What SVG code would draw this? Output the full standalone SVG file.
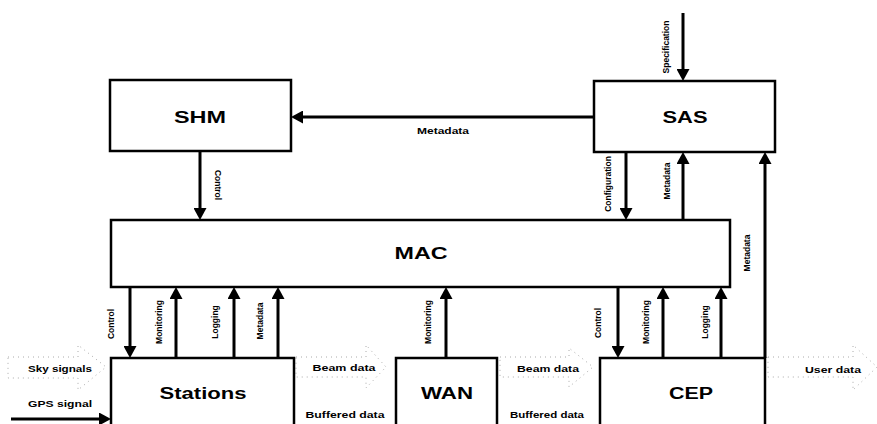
<svg xmlns="http://www.w3.org/2000/svg" width="877" height="424" viewBox="0 0 877 424">
<defs>
<style>
.box{fill:#fff;stroke:#000;stroke-width:2.5}
.nl{font-family:"Liberation Sans",Arial,sans-serif;font-weight:bold;font-size:16px;text-anchor:middle;fill:#000}
.sl{font-family:"Liberation Sans",Arial,sans-serif;font-weight:bold;font-size:8.5px;text-anchor:middle;fill:#000}
.ar{stroke:#000;stroke-width:3;fill:none;marker-end:url(#ah)}
.hol{fill:none;stroke:#aaa;stroke-width:1;stroke-dasharray:1 4}
</style>
<marker id="ah" markerWidth="13" markerHeight="13" refX="3" refY="6.5" orient="auto" markerUnits="userSpaceOnUse">
<path d="M0,0 L12,6.5 L0,13 z" fill="#000"/>
</marker>
</defs>
<rect width="877" height="424" fill="#fff"/>

<g id="connectors">
<line class="ar" x1="683" y1="13" x2="683" y2="72"/>
<line class="ar" x1="594" y1="117" x2="300" y2="117"/>
<line class="ar" x1="200" y1="151" x2="200" y2="211"/>
<line class="ar" x1="626" y1="152" x2="626" y2="211"/>
<line class="ar" x1="683" y1="220" x2="683" y2="161"/>
<line class="ar" x1="765" y1="358" x2="765" y2="161"/>
<line class="ar" x1="130" y1="287" x2="130" y2="349"/>
<line class="ar" x1="176" y1="358" x2="176" y2="296"/>
<line class="ar" x1="234" y1="358" x2="234" y2="296"/>
<line class="ar" x1="278" y1="358" x2="278" y2="296"/>
<line class="ar" x1="446" y1="358" x2="446" y2="296"/>
<line class="ar" x1="618" y1="287" x2="618" y2="349"/>
<line class="ar" x1="663" y1="358" x2="663" y2="296"/>
<line class="ar" x1="721" y1="358" x2="721" y2="296"/>
<line class="ar" x1="11" y1="419" x2="102" y2="419"/>
<polygon class="hol" points="8,357 78,357 78,345 106,367 78,390 78,378 8,378"/>
<polygon class="hol" points="296,357 366,357 366,345 386,367 366,388 366,377 296,377"/>
<polygon class="hol" points="500,357 569,357 569,348 593,367 569,387 569,377 500,377"/>
<polygon class="hol" points="768,357 853,357 853,345 877,367 853,390 853,377 768,377"/>

<text class="sl" transform="translate(666,47) rotate(-90)" dy="0.35em">Specification</text>
<text class="sl" x="443" y="134" textLength="52" lengthAdjust="spacingAndGlyphs">Metadata</text>
<text class="sl" transform="translate(218,185) rotate(90)" dy="0.35em">Control</text>
<text class="sl" transform="translate(608,184) rotate(-90)" dy="0.35em">Configuration</text>
<text class="sl" transform="translate(667,181) rotate(-90)" dy="0.35em">Metadata</text>
<text class="sl" transform="translate(747,253) rotate(-90)" dy="0.35em">Metadata</text>
<text class="sl" transform="translate(111,324) rotate(-90)" dy="0.35em">Control</text>
<text class="sl" transform="translate(159,322) rotate(-90)" dy="0.35em">Monitoring</text>
<text class="sl" transform="translate(215,322) rotate(-90)" dy="0.35em">Logging</text>
<text class="sl" transform="translate(260,321) rotate(-90)" dy="0.35em">Metadata</text>
<text class="sl" transform="translate(428,322) rotate(-90)" dy="0.35em">Monitoring</text>
<text class="sl" transform="translate(598,323) rotate(-90)" dy="0.35em">Control</text>
<text class="sl" transform="translate(646,322) rotate(-90)" dy="0.35em">Monitoring</text>
<text class="sl" transform="translate(705,322) rotate(-90)" dy="0.35em">Logging</text>
<text class="sl" x="60" y="372" textLength="64" lengthAdjust="spacingAndGlyphs">Sky signals</text>
<text class="sl" x="60" y="407" textLength="64" lengthAdjust="spacingAndGlyphs">GPS signal</text>
<text class="sl" x="344" y="371" textLength="63" lengthAdjust="spacingAndGlyphs">Beam data</text>
<text class="sl" x="345" y="418" textLength="79" lengthAdjust="spacingAndGlyphs">Buffered data</text>
<text class="sl" x="548" y="372" textLength="62" lengthAdjust="spacingAndGlyphs">Beam data</text>
<text class="sl" x="547" y="418" textLength="74" lengthAdjust="spacingAndGlyphs">Buffered data</text>
<text class="sl" x="833" y="373" textLength="56" lengthAdjust="spacingAndGlyphs">User data</text>
</g>

<g id="SHM">
<rect class="box" x="110" y="80" width="181" height="71"/>
<text class="nl" x="200" y="123" textLength="52" lengthAdjust="spacingAndGlyphs">SHM</text>
</g>
<g id="SAS">
<rect class="box" x="594" y="81" width="181" height="71"/>
<text class="nl" x="685" y="123" textLength="45" lengthAdjust="spacingAndGlyphs">SAS</text>
</g>
<g id="MAC">
<rect class="box" x="111" y="220" width="619" height="67"/>
<text class="nl" x="421" y="259" textLength="53" lengthAdjust="spacingAndGlyphs">MAC</text>
</g>
<g id="Stations">
<rect class="box" x="111" y="358" width="183" height="80"/>
<text class="nl" x="203" y="399" textLength="87" lengthAdjust="spacingAndGlyphs">Stations</text>
</g>
<g id="WAN">
<rect class="box" x="396" y="358" width="101" height="80"/>
<text class="nl" x="447" y="399" textLength="52" lengthAdjust="spacingAndGlyphs">WAN</text>
</g>
<g id="CEP">
<rect class="box" x="600" y="358" width="165" height="80"/>
<text class="nl" x="691" y="399" textLength="44" lengthAdjust="spacingAndGlyphs">CEP</text>
</g>
</svg>
